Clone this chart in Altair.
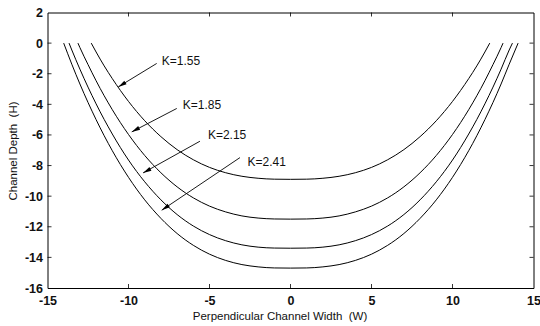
import altair as alt
import pandas as pd

# ---- data ----
k155_x = [-12.3, -12, -11.5, -11, -10, -9, -8, -7, -6, -5, -4, -3, -2, -1, 0,
          1, 2, 3, 4, 5, 6, 7, 8, 9, 10, 11, 11.5, 12, 12.3]
k155_y = [0, -0.58, -1.49, -2.32, -3.81, -5.07, -6.11, -6.96, -7.62, -8.12, -8.47, -8.70, -8.83, -8.89, -8.9,
          -8.89, -8.83, -8.70, -8.47, -8.12, -7.62, -6.96, -6.11, -5.07, -3.81, -2.32, -1.49, -0.58, 0]

k185_x = [-13.12, -13, -12.5, -12, -11, -10, -9, -8, -7, -6, -5, -4, -3, -2, -1, 0,
          1, 2, 3, 4, 5, 6, 7, 8, 9, 10, 11, 12, 12.5, 13, 13.12]
k185_y = [0, -0.29, -1.40, -2.46, -4.35, -5.97, -7.34, -8.47, -9.39, -10.11, -10.65, -11.03, -11.29, -11.43, -11.49, -11.5,
          -11.49, -11.43, -11.29, -11.03, -10.65, -10.11, -9.39, -8.47, -7.34, -5.97, -4.35, -2.46, -1.40, -0.29, 0]

k215_x = [-13.67, -13.5, -13, -12, -11, -10, -9, -8, -7, -6, -5, -4, -3, -2, -1, 0,
          1, 2, 3, 4, 5, 6, 7, 8, 9, 10, 11, 12, 13, 13.5, 13.7]
k215_y = [0, -0.45, -1.70, -3.97, -5.94, -7.64, -9.06, -10.24, -11.20, -11.95, -12.51, -12.91, -13.18, -13.33, -13.39, -13.4,
          -13.39, -13.33, -13.18, -12.91, -12.51, -11.95, -11.20, -10.24, -9.06, -7.64, -5.94, -3.97, -1.70, -0.45, 0]

k241_x = [-14, -13.5, -13, -12, -11, -10, -9, -8, -7, -6, -5, -4, -3, -2, -1, 0,
          1, 2, 3, 4, 5, 6, 7, 8, 9, 10, 11, 12, 13, 13.5, 14.05]
k241_y = [0, -1.38, -2.67, -5.0, -7.03, -8.77, -10.24, -11.45, -12.44, -13.21, -13.79, -14.2, -14.47, -14.62, -14.69, -14.7,
          -14.69, -14.62, -14.47, -14.2, -13.79, -13.21, -12.44, -11.45, -10.24, -8.77, -7.03, -5.0, -2.67, -1.38, 0]

labels = ["K=1.55", "K=1.85", "K=2.15", "K=2.41"]
label_x = [-7.95, -6.65, -5.1, -2.65]
label_y = [-1.18, -4.05, -6.01, -7.75]
arrow_x0 = [-8.26, -7.02, -5.59, -3.12]
arrow_y0 = [-1.33, -4.27, -6.41, -7.48]
arrow_x1 = [-10.63, -9.80, -9.10, -7.95]
arrow_y1 = [-2.86, -5.80, -8.48, -10.92]
arrow_angle = [238, 242, 241, 236]

x_ticks = [-15, -10, -5, 0, 5, 10, 15]
y_ticks = [-16, -14, -12, -10, -8, -6, -4, -2, 0, 2]
x_inner = [-10, -5, 0, 5, 10]
y_inner = [-14, -12, -10, -8, -6, -4, -2, 0]

# ---- tables ----
rows = []
for name, xs, ys in [("K=1.55", k155_x, k155_y), ("K=1.85", k185_x, k185_y),
                     ("K=2.15", k215_x, k215_y), ("K=2.41", k241_x, k241_y)]:
    for i, (a, b) in enumerate(zip(xs, ys)):
        rows.append({"K": name, "x": a, "y": b, "o": i})
curves = pd.DataFrame(rows)

ann = pd.DataFrame({"label": labels, "lx": label_x, "ly": label_y,
                    "x0": arrow_x0, "y0": arrow_y0, "x1": arrow_x1, "y1": arrow_y1,
                    "ang": arrow_angle})
xt = pd.DataFrame({"v": x_inner})
yt = pd.DataFrame({"v": y_inner})

W, H = 486, 275.5
FONT = "Liberation Sans"

xscale = alt.Scale(domain=[-15, 15], nice=False, zero=False)
yscale = alt.Scale(domain=[-16, 2], nice=False, zero=False)

xaxis = alt.Axis(values=x_ticks, tickSize=0, domain=False, grid=False, labelPadding=6,
                 labelFontSize=12.5, labelFontWeight="bold", labelFont=FONT, labelColor="#111",
                 labelOverlap=False, labelFlush=False, labelExpr="toString(datum.value)",
                 title="Perpendicular Channel Width\u00a0\u00a0(W)", titleFont=FONT,
                 titleFontSize=11.5, titleFontWeight="normal", titleColor="#111",
                 titleX=232, titleY=31, titleBaseline="alphabetic")
yaxis = alt.Axis(values=y_ticks, tickSize=0, domain=False, grid=False, labelPadding=5,
                 labelFontSize=12.5, labelFontWeight="bold", labelFont=FONT, labelColor="#111",
                 labelOverlap=False, labelFlush=False, labelExpr="toString(datum.value)",
                 title="Channel Depth\u00a0\u00a0(H)", titleFont=FONT,
                 titleFontSize=11.5, titleFontWeight="normal", titleColor="#111",
                 titleX=-31, titleY=138, titleBaseline="alphabetic")

lines = alt.Chart(curves).mark_line(color="black", strokeWidth=1, interpolate="monotone").encode(
    x=alt.X("x:Q", scale=xscale, axis=xaxis),
    y=alt.Y("y:Q", scale=yscale, axis=yaxis),
    detail="K:N",
    order="o:Q",
)

shafts = alt.Chart(ann).mark_rule(color="black", strokeWidth=0.9).encode(
    x=alt.X("x0:Q", scale=xscale, axis=xaxis), y=alt.Y("y0:Q", scale=yscale, axis=yaxis),
    x2="x1:Q", y2="y1:Q",
)

heads = alt.Chart(ann).mark_point(
    shape="M0,0L-0.4,1.6L0.4,1.6Z", filled=True, color="black", opacity=1, size=110, strokeWidth=0
).encode(
    x=alt.X("x1:Q", scale=xscale, axis=xaxis), y=alt.Y("y1:Q", scale=yscale, axis=yaxis),
    angle=alt.Angle("ang:Q", scale=None),
)

texts = alt.Chart(ann).mark_text(align="left", baseline="middle", font=FONT, fontSize=12, color="#111").encode(
    x=alt.X("lx:Q", scale=xscale, axis=xaxis), y=alt.Y("ly:Q", scale=yscale, axis=yaxis), text="label:N",
)

tb = alt.Chart(xt).mark_rule(color="black", strokeWidth=0.8).encode(
    x=alt.X("v:Q", scale=xscale, axis=xaxis), y=alt.value(H), y2=alt.value(H - 4))
tt = alt.Chart(xt).mark_rule(color="black", strokeWidth=0.8).encode(
    x=alt.X("v:Q", scale=xscale, axis=xaxis), y=alt.value(0), y2=alt.value(4))
tl = alt.Chart(yt).mark_rule(color="black", strokeWidth=0.8).encode(
    y=alt.Y("v:Q", scale=yscale, axis=yaxis), x=alt.value(0), x2=alt.value(4))
tr = alt.Chart(yt).mark_rule(color="black", strokeWidth=0.8).encode(
    y=alt.Y("v:Q", scale=yscale, axis=yaxis), x=alt.value(W), x2=alt.value(W - 4))

chart = alt.layer(lines, shafts, heads, texts, tb, tt, tl, tr).properties(
    width=W, height=H,
    autosize=alt.AutoSizeParams(type="none"),
    padding={"left": 47.5, "top": 12.5, "right": 6.5, "bottom": 38},
    background="white",
).configure_view(stroke="black", strokeWidth=1).configure_axis(labelOverlap=False, labelFlush=False)

chart.save("out.html", embed_options={"renderer": "svg", "actions": False})
